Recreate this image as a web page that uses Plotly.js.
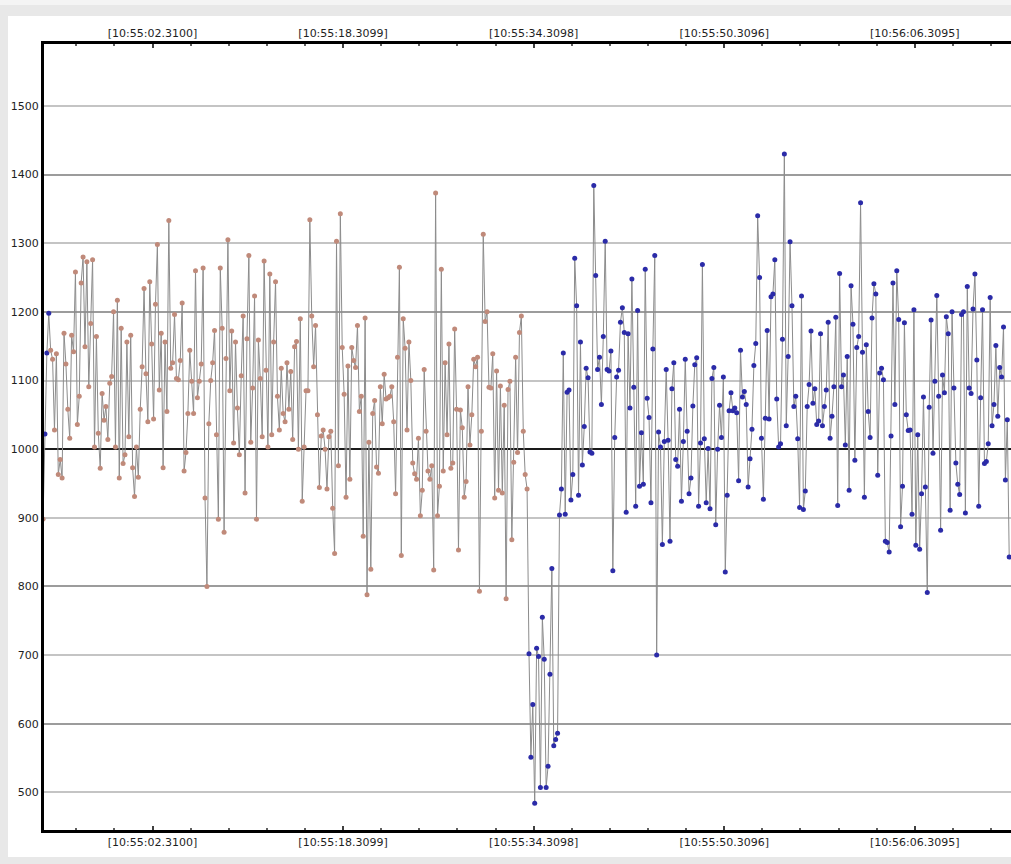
<!DOCTYPE html>
<html>
<head>
<meta charset="utf-8">
<script src="https://cdn.plot.ly/plotly-3.0.1.min.js"></script>
<style>
  html, body { margin: 0; padding: 0; width: 1011px; height: 864px; overflow: hidden; background: #e8e8e8; }
  #topband { position: absolute; left: 0; top: 0; width: 1011px; height: 5px; background: #f4f4f4; }
  #panel { position: absolute; left: 8px; top: 16px; width: 1003px; height: 841px; background: #ffffff; }
  #chart { position: absolute; left: 0; top: 0; width: 1003px; height: 841px; }
</style>
</head>
<body>
<div id="topband"></div>
<div id="panel"><div id="chart"></div></div>
<script>
// ---- data ----
const startTime = -6.88;       // seconds after 10:55:00 of the first sample
const sampleStep = 0.16;       // seconds between samples

const segmentA = [898,1022,1140,1198,1144,1131,1028,1139,963,985,
  958,1169,1124,1058,1016,1166,1142,1258,1036,1077,
  1242,1280,1149,1273,1091,1183,1276,1003,1164,1023,
  972,1081,1042,1062,1014,1096,1106,1200,1003,1217,
  958,1176,979,992,1156,1018,1166,973,931,1003,
  959,1058,1120,1234,1110,1040,1244,1153,1044,1211,
  1298,1086,1169,973,1156,1055,1333,1118,1126,1196,
  1103,1101,1129,1213,968,995,1052,1144,1099,1052,
  1260,1075,1099,1124,1264,929,800,1037,1100,1126,
  1173,1021,898,1264,1176,879,1132,1305,1085,1172,
  1009,1156,1060,992,1107,1194,936,1161,1282,1010,
  1089,1223,898,1159,1103,1018,1274,1115,1003,1255,
  1021,1156,1244,1077,1028,1118,1052,1040];
const segmentB = [1126,1058,1113,1014,1149,1157,1000,1190,924,1003,
  1085,1085,1334,1194,1120,1180,1050,944,1019,1028,
  1000,942,1018,1026,914,848,1303,976,1343,1148,
  1080,930,1121,956,1148,1129,1119,1180,1055,1077,
  873,1191,788,1010,825,1052,1071,974,965,1091,
  1037,1109,1073,1075,1077,1091,1040,935,1134,1265,
  845,1190,1147,1028,1156,1100,980,964,956,1016,
  903,940,1116,1026,968,956,976,824,1373,903,
  946,1262,968,1126,1021,1153,972,980,1175,1058,
  853,1057,1031,930,953,1091,1006,1050,1131,1120,
  1134,793,1026,1313,1186,1200,1090,1089,1139,929,
  1114,940,1092,936,1064,782,1087,1099,868,981,
  1134,995,1170,1194,1026,963,942];
const segmentC = [702,551,628,484,710,698,507,755,694,507,538,672,826,568,577,586];
const segmentD = [904,942,1140,905,1083,1086,926,963,1278,1209,
  933,1156,977,1033,1118,1104,996,994,1384,1253,
  1116,1134,1065,1164,1303,1116,1114,1143,823,1017,
  1105,1115,1185,1206,1170,908,1168,1060,1248,1090,
  917,1202,946,1024,949,1262,1074,1046,922,1146,
  1282,700,1025,1003,861,1011,1116,1013,866,1088,
  1126,985,975,1058,924,1011,1131,1026,935,958,
  1063,1123,1133,917,1009,1269,1015,922,1001,913,
  1103,1119,890,1000,1064,1017,1105,821,933,1056,
  1082,1056,1060,1053,954,1144,1076,1084,1065,945,
  986,1029,1122,1154,1340,1250,1016,927,1045,1173,
  1044,1222,1226,1276,1073];
const segmentE = [1003,1008,1160,1430,1034,1135,1302,1209,1062,1077,
  1015,915,1223,912,939,1062,1094,1172,1067,1088,
  1036,1041,1168,1034,1062,1086,1185,1016,1048,1091,
  1192,918,1256,1091,1108,1006,1135,940,1238,1182,
  984,1148,1164,1359,1141,930,1152,1055,1017,1191,
  1241,1226,962,1111,1118,1101,866,864,850,1019,
  1242,1065,1260,1189,887,946,1184,1050,1027,1028,
  905,1203,860,1021,854,935,1076,945,791,1061,
  1188,994,1099,1224,1077,882,1108,1082,1193,1168,
  911,1200,1089,980,949,934,1196,1200,907,1237,
  1089,1081,1204,1255,1130,917,1075,1203,979,982,
  1008,1221,1034,1065,1151,1048,1119,1105,1178,955,
  1043,843];

// which segment belongs to which marker group
const segmentGroups = ['early', 'early', 'late', 'late', 'late'];
const blueEarlyIndices = [1, 2, 3];

const tickTimes = [2.31, 18.31, 34.31, 50.31, 66.31];
const tickLabels = ['[10:55:02.3100]', '[10:55:18.3099]', '[10:55:34.3098]', '[10:55:50.3096]', '[10:56:06.3095]'];
const yTickValues = [500, 600, 700, 800, 900, 1000, 1100, 1200, 1300, 1400, 1500];
const lightGridValues = [500, 700, 900, 1100, 1300, 1500];
const darkGridValues = [600, 800, 1200, 1400];
const baseGridValues = [1000];

// ---- build ----
const groupColors = { early: '#c08a7a', late: '#2b2ba8' };
const segments = [segmentA, segmentB, segmentC, segmentD, segmentE];
const yVals = [], xVals = [], colors = [];
segments.forEach((seg, s) => {
  seg.forEach(v => {
    const i = yVals.length;
    yVals.push(v);
    xVals.push(startTime + i * sampleStep);
    let g = segmentGroups[s];
    if (blueEarlyIndices.includes(i)) g = 'late';
    colors.push(groupColors[g]);
  });
});

const xRange = [-6.80, 74.39];
const yRange = [445.2, 1590.2];
const fontSpec = { family: 'DejaVu Sans, Verdana, sans-serif', size: 11, color: '#1e1e1e' };

const xCommon = {
  range: xRange, tickmode: 'array', tickvals: tickTimes, ticktext: tickLabels,
  ticks: 'inside', ticklen: 4, tickwidth: 2, tickcolor: '#404040',
  minor: { tickmode: 'linear', tick0: 2.31, dtick: 3.2, ticks: 'inside', ticklen: 2, tickwidth: 2, tickcolor: '#606060', showgrid: false },
  showline: true, linewidth: 3, linecolor: '#000000', showgrid: false, zeroline: false,
  tickfont: fontSpec, automargin: false, fixedrange: true
};
const gridAxis = (vals, color) => ({
  range: yRange, overlaying: 'y', anchor: 'x', side: 'left', tickmode: 'array', tickvals: vals,
  showticklabels: false, ticks: '', showline: false, zeroline: false,
  showgrid: true, gridcolor: color, gridwidth: 2, fixedrange: true
});
// invisible helpers so that the overlay axes (top time axis, grid axes) get drawn
const helper = (xa, ya) => ({
  type: 'scatter', mode: 'markers', x: [xVals[0]], y: [yVals[0]], xaxis: xa, yaxis: ya,
  marker: { opacity: 0, size: 1 }, hoverinfo: 'skip', showlegend: false
});

const traces = [
  helper('x', 'y2'), helper('x', 'y3'), helper('x', 'y4'), helper('x2', 'y'),
  {
    type: 'scatter', mode: 'lines+markers', x: xVals, y: yVals, xaxis: 'x', yaxis: 'y',
    line: { color: '#8c8c8c', width: 1 },
    marker: { color: colors, size: 5, line: { width: 0 } },
    cliponaxis: true, hoverinfo: 'skip'
  }
];

const layout = {
  width: 1003, height: 841,
  margin: { l: 36, r: 0, t: 28, b: 27, pad: 0 },
  paper_bgcolor: '#ffffff', plot_bgcolor: '#ffffff', showlegend: false,
  xaxis: Object.assign({}, xCommon, { side: 'bottom', anchor: 'y' }),
  xaxis2: Object.assign({}, xCommon, { side: 'top', overlaying: 'x', anchor: 'y' }),
  yaxis: {
    range: yRange, tickmode: 'array', tickvals: yTickValues, ticks: '', showgrid: false,
    showline: true, linewidth: 3, linecolor: '#000000', zeroline: false, anchor: 'x',
    tickfont: fontSpec, automargin: false, fixedrange: true
  },
  yaxis2: gridAxis(lightGridValues, '#c4c4c4'),
  yaxis3: gridAxis(darkGridValues, '#9c9c9c'),
  yaxis4: gridAxis(baseGridValues, '#1a1a1a')
};

Plotly.newPlot('chart', traces, layout, { displayModeBar: false, staticPlot: true });
</script>
</body>
</html>
